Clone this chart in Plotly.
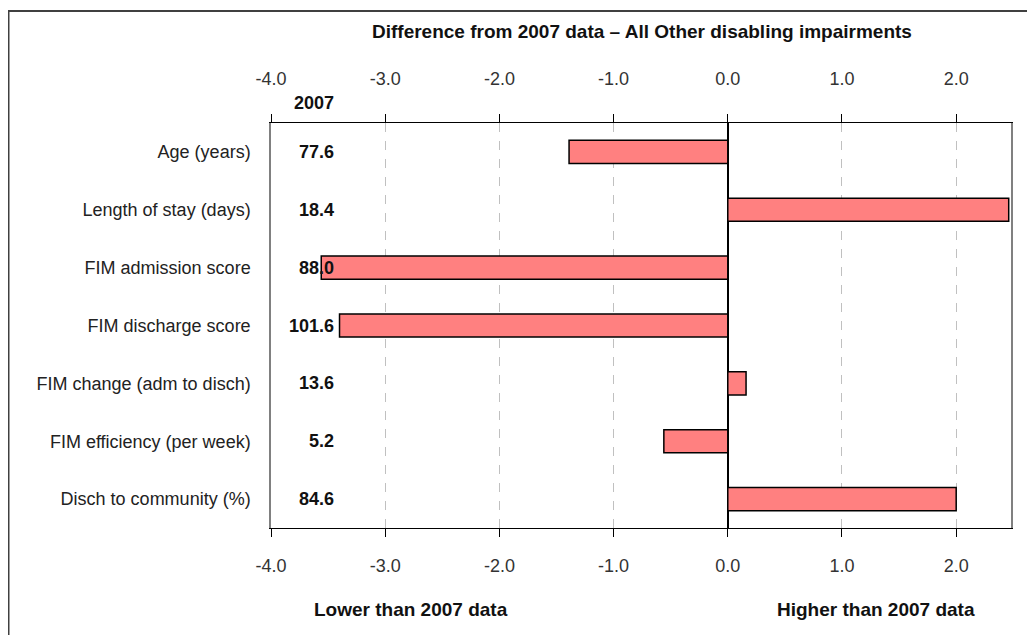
import plotly.graph_objects as go

categories = ["Age (years)", "Length of stay (days)", "FIM admission score",
              "FIM discharge score", "FIM change (adm to disch)",
              "FIM efficiency (per week)", "Disch to community (%)"]
diff_from_2007 = [-1.39, 2.46, -3.56, -3.40, 0.16, -0.56, 2.00]
values_2007 = ["77.6", "18.4", "88.0", "101.6", "13.6", "5.2", "84.6"]
tick_vals = [-4, -3, -2, -1, 0, 1, 2]
tick_text = ["-4.0", "-3.0", "-2.0", "-1.0", "0.0", "1.0", "2.0"]
x_range = [-4, 2.48]

FONT = "Liberation Sans Narrow, Arial Narrow, Liberation Sans, Arial, sans-serif"

MARGIN_L, MARGIN_T, PLOT_W, PLOT_H = 263, 115, 740, 405


def px_to_paper_x(px):
    return (px - MARGIN_L) / PLOT_W


def px_to_paper_y(py):
    return (MARGIN_T + PLOT_H - py) / PLOT_H


fig = go.Figure()
fig.add_trace(go.Bar(
    y=categories, x=diff_from_2007, orientation="h", width=0.4,
    marker=dict(color="#FF8080", line=dict(color="#000000", width=1.5)),
    hoverinfo="x+y", showlegend=False,
))
fig.add_trace(go.Scatter(
    x=[x_range[0]], y=[categories[0]], xaxis="x2", mode="markers",
    marker=dict(opacity=0), showlegend=False, hoverinfo="skip",
))

for cat, v in zip(categories, values_2007):
    fig.add_annotation(x=-3.43, y=cat, text=f"<b>{v}</b>", showarrow=False,
                       xanchor="right", yanchor="middle",
                       font=dict(family=FONT, size=18, color="#111111"))

fig.add_annotation(x=-3.43, y=1.05, yref="paper", text="<b>2007</b>", showarrow=False,
                   xanchor="right", yanchor="middle",
                   font=dict(family=FONT, size=18, color="#111111"))
fig.add_annotation(x=0.189, xref="paper", y=-0.2, yref="paper",
                   text="<b>Lower than 2007 data</b>", showarrow=False,
                   xanchor="center", yanchor="middle",
                   font=dict(family=FONT, size=19, color="#111111"))
fig.add_annotation(x=0.817, xref="paper", y=-0.2, yref="paper",
                   text="<b>Higher than 2007 data</b>", showarrow=False,
                   xanchor="center", yanchor="middle",
                   font=dict(family=FONT, size=19, color="#111111"))
fig.add_annotation(x=0.501, xref="paper", y=1.225, yref="paper",
                   text="<b>Difference from 2007 data \u2013 All Other disabling impairments</b>",
                   showarrow=False, xanchor="center", yanchor="middle",
                   font=dict(family=FONT, size=19, color="#111111"))

# outer frame (left and top edges visible), in figure pixels
fx0, fx1, fy0, fy1 = 0, 1022, 3, 640
fig.add_shape(type="line", xref="paper", yref="paper", layer="above",
              x0=px_to_paper_x(fx0), x1=px_to_paper_x(fx1),
              y0=px_to_paper_y(fy0), y1=px_to_paper_y(fy0),
              line=dict(color="#404040", width=2))
fig.add_shape(type="line", xref="paper", yref="paper", layer="above",
              x0=px_to_paper_x(fx0 + 0.5), x1=px_to_paper_x(fx0 + 0.5),
              y0=px_to_paper_y(fy0), y1=px_to_paper_y(fy1),
              line=dict(color="#404040", width=2))

axis_common = dict(
    range=x_range, tickvals=tick_vals, ticktext=tick_text,
    ticks="outside", ticklen=8, tickcolor="#000000", tickwidth=1,
    showline=True, linecolor="#000000", linewidth=1,
    tickfont=dict(family=FONT, size=18, color="#333333"),
)

fig.update_layout(
    width=1035, height=635,
    margin=dict(l=MARGIN_L, r=1035 - MARGIN_L - PLOT_W, t=MARGIN_T,
                b=635 - MARGIN_T - PLOT_H),
    paper_bgcolor="white", plot_bgcolor="white",
    bargap=0.6,
    xaxis=dict(**axis_common, side="bottom", showgrid=True,
               gridcolor="#c0c0c0", griddash="dash", gridwidth=1,
               zeroline=True, zerolinecolor="#000000", zerolinewidth=1.5,
               ticklabelstandoff=13),
    xaxis2=dict(**axis_common, side="top", overlaying="x", showgrid=False,
                zeroline=False, anchor="y", ticklabelstandoff=22),
    yaxis=dict(categoryorder="array", categoryarray=categories,
               autorange="reversed", showgrid=False, zeroline=False,
               showline=True, linecolor="#808080", linewidth=1.5, mirror=True,
               ticks="", ticklabelstandoff=15,
               tickfont=dict(family=FONT, size=18, color="#222222")),
)

fig.write_html("out.html")
